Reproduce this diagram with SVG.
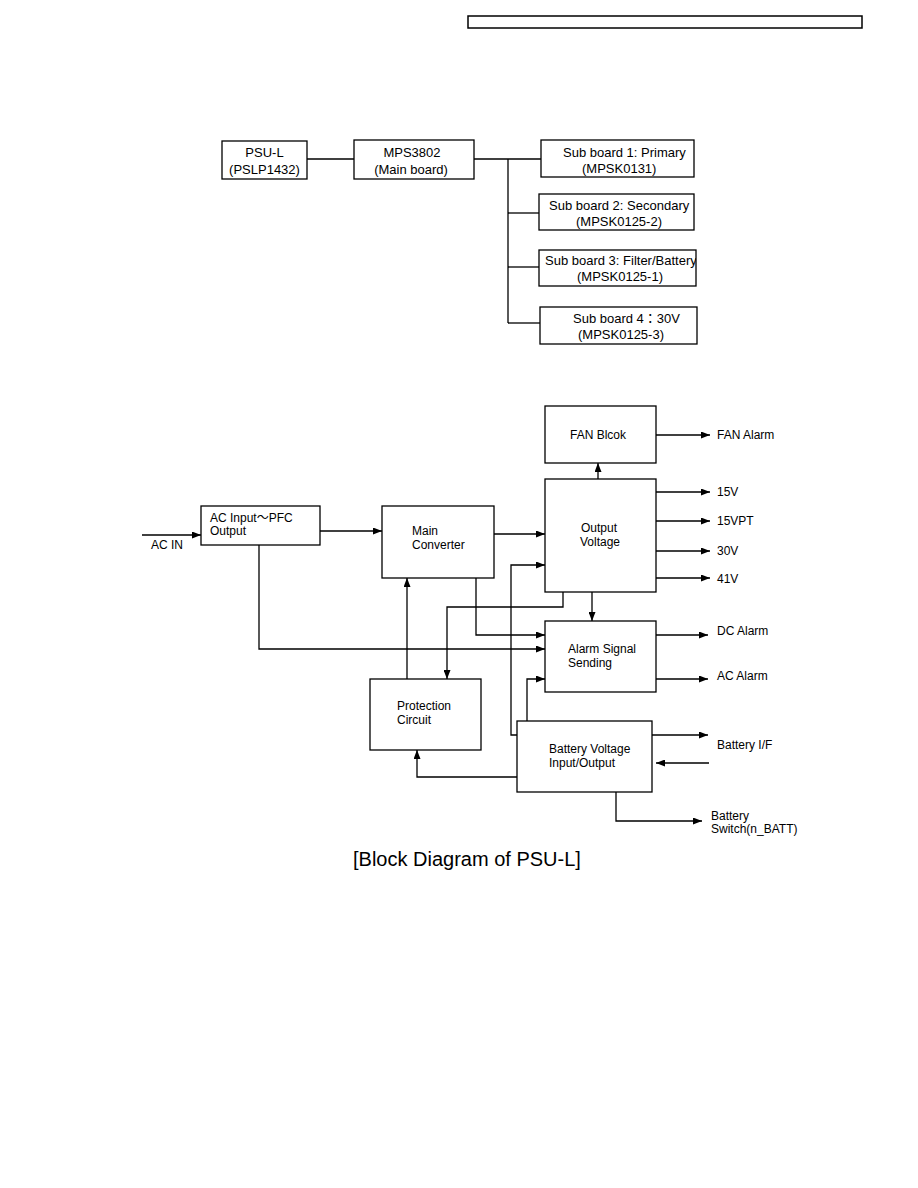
<svg xmlns="http://www.w3.org/2000/svg" width="918" height="1188" viewBox="0 0 918 1188">
<style>
.box{fill:#fff;stroke:#000;stroke-width:1.3}
.ln{fill:none;stroke:#000;stroke-width:1.3}
.arr{fill:none;stroke:#000;stroke-width:1.3;marker-end:url(#ah)}
.t13{font-family:"Liberation Sans",Arial,"Noto Sans CJK JP",sans-serif;font-size:13px;fill:#000}
.t12{font-family:"Liberation Sans",Arial,"Noto Sans CJK JP",sans-serif;font-size:12px;fill:#000}
.c{text-anchor:middle}
</style>
<defs>
<marker id="ah" viewBox="0 0 10 10" refX="10" refY="5" markerWidth="9" markerHeight="7" markerUnits="userSpaceOnUse" orient="auto" preserveAspectRatio="none">
<path d="M0,0 L10,5 L0,10 z" fill="#000"/>
</marker>
<clipPath id="clip3"><rect x="539" y="250" width="157" height="37"/></clipPath>
</defs>
<rect x="468" y="16" width="394" height="12" fill="#fff" stroke="#000" stroke-width="1.5"/>

<g id="connectors">
<line class="ln" x1="307" y1="159" x2="354" y2="159"/>
<line class="ln" x1="474" y1="159" x2="508" y2="159"/>
<line class="ln" x1="508" y1="159" x2="508" y2="323"/>
<line class="ln" x1="508" y1="159" x2="541" y2="159"/>
<line class="ln" x1="508" y1="213" x2="539" y2="213"/>
<line class="ln" x1="508" y1="267" x2="539" y2="267"/>
<line class="ln" x1="508" y1="323" x2="540" y2="323"/>
<path class="arr" d="M142,535 H201"/>
<path class="arr" d="M320,531 H382"/>
<path class="arr" d="M494,534 H545"/>
<path class="arr" d="M656,435 H710"/>
<path class="arr" d="M598,479 V463"/>
<path class="arr" d="M656,492 H710"/>
<path class="arr" d="M656,521 H710"/>
<path class="arr" d="M656,551 H710"/>
<path class="arr" d="M656,578 H710"/>
<path class="arr" d="M517,735 H511 V565 H545"/>
<path class="arr" d="M563,592 V607 H447 V679"/>
<path class="arr" d="M592,592 V621"/>
<path class="arr" d="M476,578 V635 H545"/>
<path class="arr" d="M259,545 V649 H545"/>
<path class="arr" d="M407,679 V578"/>
<path class="arr" d="M527,721 V679 H545"/>
<path class="arr" d="M656,635 H708"/>
<path class="arr" d="M656,679 H708"/>
<path class="arr" d="M652,735 H708"/>
<path class="arr" d="M709,763 H656"/>
<path class="arr" d="M517,777 H417 V750"/>
<path class="arr" d="M616,792 V821 H702"/>
</g>

<g id="psu-l">
<rect class="box" x="222" y="141" width="85" height="38"/>
<text class="t13 c" x="264.5" y="157">PSU-L</text>
<text class="t13 c" x="264.5" y="174">(PSLP1432)</text>
</g>
<g id="mps3802">
<rect class="box" x="354" y="140" width="120" height="39"/>
<text class="t13 c" x="412" y="157">MPS3802</text>
<text class="t13 c" x="411" y="174">(Main board)</text>
</g>
<g id="sub1">
<rect class="box" x="541" y="140" width="153" height="37"/>
<text class="t13" x="563" y="157">Sub board 1: Primary</text>
<text class="t13" x="582" y="173">(MPSK0131)</text>
</g>
<g id="sub2">
<rect class="box" x="539" y="194" width="155" height="36"/>
<text class="t13" x="549" y="210">Sub board 2: Secondary</text>
<text class="t13" x="576" y="226">(MPSK0125-2)</text>
</g>
<g id="sub3">
<rect class="box" x="539" y="250" width="157" height="36"/>
<text class="t13" x="545" y="265" clip-path="url(#clip3)">Sub board 3: Filter/Battery</text>
<text class="t13" x="577" y="281">(MPSK0125-1)</text>
</g>
<g id="sub4">
<rect class="box" x="540" y="307" width="157" height="37"/>
<text class="t13" x="573" y="323">Sub board 4：30V</text>
<text class="t13" x="578" y="339">(MPSK0125-3)</text>
</g>

<g id="ac-input">
<rect class="box" x="201" y="506" width="119" height="39"/>
<text class="t12" x="210" y="522">AC Input～PFC</text>
<text class="t12" x="210" y="535">Output</text>
</g>
<text class="t12" x="151" y="549">AC IN</text>
<g id="main-converter">
<rect class="box" x="382" y="506" width="112" height="72"/>
<text class="t12" x="412" y="535">Main</text>
<text class="t12" x="412" y="549">Converter</text>
</g>
<g id="fan-block">
<rect class="box" x="545" y="406" width="111" height="57"/>
<text class="t12 c" x="598" y="439">FAN Blcok</text>
</g>
<g id="output-voltage">
<rect class="box" x="545" y="479" width="111" height="113"/>
<text class="t12 c" x="599" y="532">Output</text>
<text class="t12 c" x="600" y="546">Voltage</text>
</g>
<g id="alarm-signal">
<rect class="box" x="545" y="621" width="111" height="71"/>
<text class="t12" x="568" y="653">Alarm Signal</text>
<text class="t12" x="568" y="667">Sending</text>
</g>
<g id="protection">
<rect class="box" x="370" y="679" width="111" height="71"/>
<text class="t12" x="397" y="710">Protection</text>
<text class="t12" x="397" y="724">Circuit</text>
</g>
<g id="battery">
<rect class="box" x="517" y="721" width="135" height="71"/>
<text class="t12" x="549" y="753">Battery Voltage</text>
<text class="t12" x="549" y="767">Input/Output</text>
</g>

<g id="labels">
<text class="t12" x="717" y="439">FAN Alarm</text>
<text class="t12" x="717" y="496">15V</text>
<text class="t12" x="717" y="525">15VPT</text>
<text class="t12" x="717" y="555">30V</text>
<text class="t12" x="717" y="583">41V</text>
<text class="t12" x="717" y="635">DC Alarm</text>
<text class="t12" x="717" y="680">AC Alarm</text>
<text class="t12" x="717" y="749">Battery I/F</text>
<text class="t12" x="711" y="820">Battery</text>
<text class="t12" x="711" y="833">Switch(n_BATT)</text>
</g>
<text x="353" y="866" font-family="Liberation Sans,Arial,sans-serif" font-size="20" fill="#000">[Block Diagram of PSU-L]</text>
</svg>
